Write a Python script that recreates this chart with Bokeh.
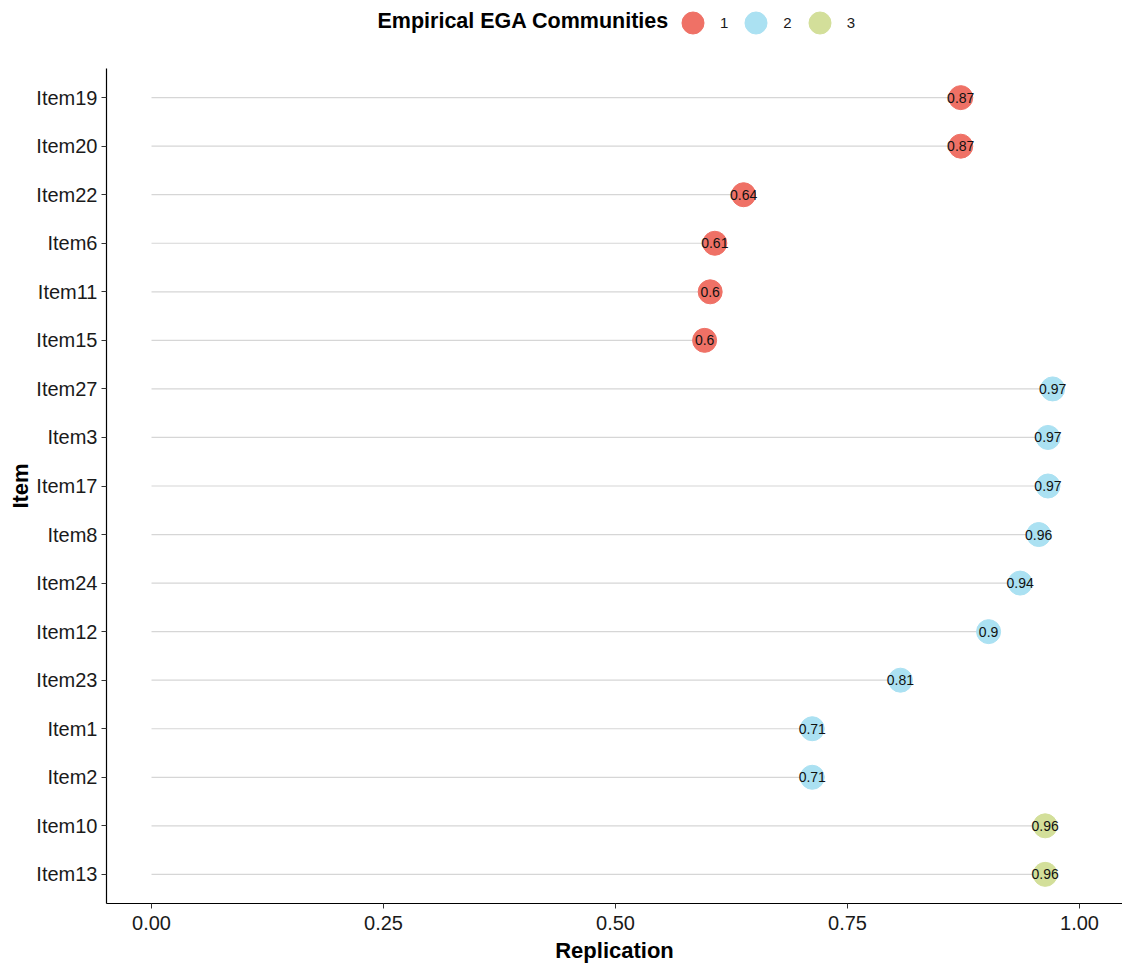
from bokeh.plotting import figure
from bokeh.layouts import column
from bokeh.models import (Range1d, FactorRange, FixedTicker, NumeralTickFormatter,
                          Legend, LegendItem, Label, ColumnDataSource)
from bokeh.core.properties import value
from bokeh.embed import file_html
from bokeh.resources import INLINE

# ---- data (top to bottom as shown) ----
items = ["Item19", "Item20", "Item22", "Item6", "Item11", "Item15", "Item27", "Item3",
         "Item17", "Item8", "Item24", "Item12", "Item23", "Item1", "Item2", "Item10", "Item13"]
replication = [0.872, 0.872, 0.638, 0.607, 0.602, 0.596, 0.971, 0.966,
               0.966, 0.956, 0.936, 0.902, 0.807, 0.712, 0.712, 0.963, 0.963]
community = ["1", "1", "1", "1", "1", "1", "2", "2", "2", "2", "2", "2", "2", "2", "2", "3", "3"]
comm_levels = ["1", "2", "3"]
comm_colors = ["#EF7166", "#ABE1F2", "#D3DF9A"]
x_ticks = [0.0, 0.25, 0.5, 0.75, 1.0]
legend_title = "Empirical EGA Communities"

labels = [("%g" % round(v, 2)) for v in replication]
FONT = "Liberation Sans"
W = 1122

# ---------------- legend strip ----------------
top = figure(width=W, height=40, output_backend="svg", toolbar_location=None,
             x_range=Range1d(0, 1), y_range=Range1d(0, 1),
             x_axis_location=None, y_axis_location=None,
             min_border_left=0, min_border_right=0, min_border_top=0, min_border_bottom=0)
top.outline_line_color = None
top.xgrid.visible = False
top.ygrid.visible = False
leg_items = []
for lev, col in zip(comm_levels, comm_colors):
    # the point lies outside the strip's range: it only feeds the legend glyph
    r = top.scatter(x=[-5.0], y=[-5.0], size=24, fill_color=col, line_color=col)
    leg_items.append(LegendItem(label=lev, renderers=[r]))
legend = Legend(items=leg_items, orientation="horizontal", location=(559, -10),
                padding=0, margin=0, spacing=0, glyph_width=55, glyph_height=55,
                label_standoff=0, label_width=0, label_height=20,
                label_text_font=FONT, label_text_font_size="15px",
                label_text_color="#1a1a1a",
                border_line_color=None, background_fill_alpha=0)
top.add_layout(legend)
top.add_layout(Label(x=271, y=20, x_units="screen", y_units="screen", text=legend_title,
                     text_font=FONT, text_font_size="21.5px", text_font_style="bold",
                     text_align="left", text_baseline="middle", text_color="black"))

# ---------------- main plot ----------------
factors = list(reversed(items))
p = figure(width=W, height=925, output_backend="svg", toolbar_location=None,
           x_range=Range1d(-0.0485, 1.0463),
           y_range=FactorRange(factors=factors, range_padding=0.1, range_padding_units="absolute"),
           min_border_left=106, min_border_right=0, min_border_top=28, min_border_bottom=62)
p.outline_line_color = None
p.xgrid.visible = False
p.ygrid.visible = False

src = ColumnDataSource(dict(item=items, rep=replication, comm=community, lab=labels,
                            zero=[0.0] * len(items)))
p.segment(x0="zero", y0="item", x1="rep", y1="item", source=src,
          line_color="#D6D6D6", line_width=1.2)

for lev, col in zip(comm_levels, comm_colors):
    idx = [i for i, c in enumerate(community) if c == lev]
    s = ColumnDataSource(dict(item=[items[i] for i in idx], rep=[replication[i] for i in idx]))
    p.scatter(x="rep", y="item", source=s, size=24, fill_color=col, line_color=col)

p.text(x="rep", y="item", text="lab", source=src, text_align="center",
       text_baseline="middle", text_font_size="14px", text_color="#111111",
       text_font=value(FONT))

xa = p.xaxis[0]
xa.ticker = FixedTicker(ticks=x_ticks)
xa.formatter = NumeralTickFormatter(format="0.00")
xa.axis_label = "Replication"
ya = p.yaxis[0]
ya.axis_label = "Item"
for ax in (xa, ya):
    ax.axis_line_color = "black"
    ax.axis_line_width = 1.2
    ax.major_tick_line_color = "#333333"
    ax.major_tick_out = 5
    ax.major_tick_in = 0
    ax.minor_tick_line_color = None
    ax.major_label_text_font = FONT
    ax.major_label_text_font_size = "20px"
    ax.major_label_text_color = "#1a1a1a"
    ax.axis_label_text_font = FONT
    ax.axis_label_text_font_size = "22px"
    ax.axis_label_text_font_style = "bold"
    ax.axis_label_text_color = "black"
xa.major_label_standoff = 7
xa.axis_label_standoff = 5
ya.major_label_standoff = 4
ya.axis_label_standoff = 0

layout = column(top, p, spacing=0)
open("out.html", "w").write(file_html(layout, INLINE))
